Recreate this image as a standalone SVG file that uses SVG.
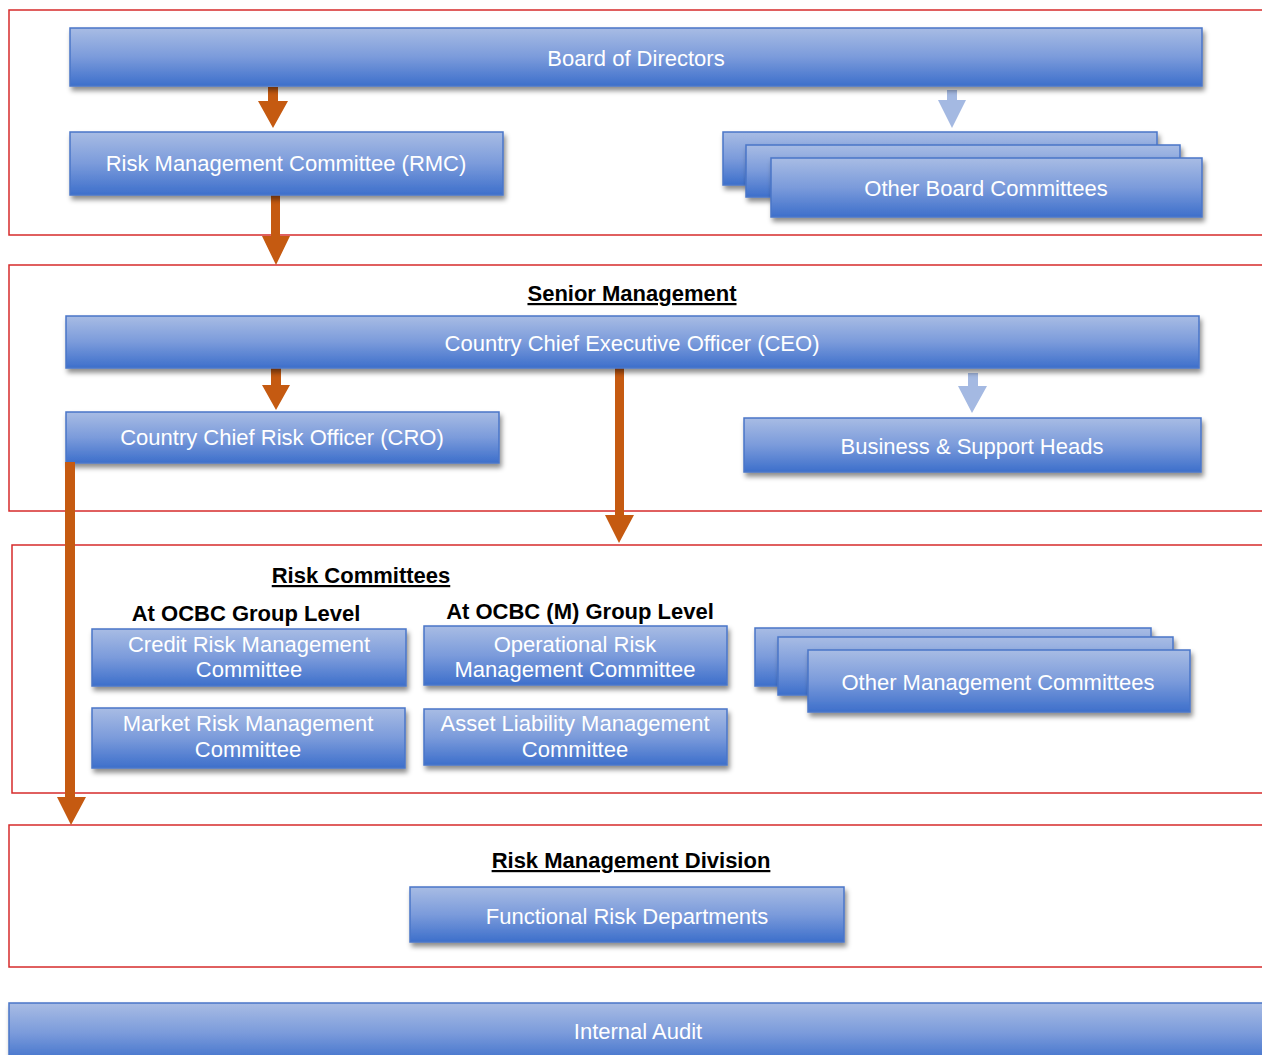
<svg xmlns="http://www.w3.org/2000/svg" width="1262" height="1055" viewBox="0 0 1262 1055">
<defs>
<linearGradient id="g" x1="0" y1="0" x2="0" y2="1">
<stop offset="0" stop-color="#a8bce4"/>
<stop offset="0.5" stop-color="#7b9bdb"/>
<stop offset="1" stop-color="#3d6fcb"/>
</linearGradient>
<filter id="sh" x="-5%" y="-20%" width="110%" height="150%">
<feDropShadow dx="2" dy="4" stdDeviation="2.5" flood-color="#000" flood-opacity="0.45"/>
</filter>
</defs>
<style>
.frame{fill:none;stroke:#d62b2b;stroke-width:1.5}
.box{fill:url(#g);stroke:#4a76c8;stroke-width:1.5;filter:url(#sh)}
.t{fill:#ffffff;font-family:"Liberation Sans",Arial,sans-serif;font-size:22px;text-anchor:middle}
.h{fill:#000;font-family:"Liberation Sans",Arial,sans-serif;font-size:22px;font-weight:bold;text-anchor:middle}
.u{text-decoration:underline}
.oa{fill:#c55a11}
.ba{fill:#a4b9e2}
</style>
<rect width="1262" height="1055" fill="#ffffff"/>
<g id="frames">
<rect class="frame" x="9" y="10" width="1270" height="225"/>
<rect class="frame" x="9" y="265" width="1270" height="246"/>
<rect class="frame" x="12" y="545" width="1270" height="248"/>
<rect class="frame" x="9" y="825" width="1270" height="142"/>
</g>
<g id="headings">
<text class="h u" x="632" y="301">Senior Management</text>
<text class="h u" x="361" y="583">Risk Committees</text>
<text class="h" x="246" y="621">At OCBC Group Level</text>
<text class="h" x="580" y="619">At OCBC (M) Group Level</text>
<text class="h u" x="631" y="868">Risk Management Division</text>
</g>
<g id="connectors">
<polygon class="oa" points="268,87 278,87 278,101 288,101 273,128 258,101 268,101"/>
<polygon class="ba" points="947,90 957,90 957,100 966,100 952,128 938,100 947,100"/>
<polygon class="oa" points="271,195 280,195 280,236 290,236 276,265 262,236 271,236"/>
<polygon class="oa" points="271,368 281,368 281,385 290,385 276,410 262,385 271,385"/>
<polygon class="oa" points="615,360 624,360 624,515 634,515 619,543 605,515 615,515"/>
<polygon class="ba" points="968,373 978,373 978,386 987,386 972,413 958,386 968,386"/>
</g>
<g id="board"><rect class="box" x="70" y="28" width="1132" height="58"/><text class="t" x="636" y="66">Board of Directors</text></g>
<g id="rmc"><rect class="box" x="70" y="132" width="433" height="63"/><text class="t" x="286" y="171">Risk Management Committee (RMC)</text></g>
<g id="other-board">
<rect class="box" x="723" y="132" width="434" height="53"/>
<rect class="box" x="746" y="145" width="434" height="52"/>
<rect class="box" x="771" y="158" width="431" height="59"/>
<text class="t" x="986" y="196">Other Board Committees</text>
</g>
<g id="ceo"><rect class="box" x="66" y="316" width="1133" height="52"/><text class="t" x="632" y="351">Country Chief Executive Officer (CEO)</text></g>
<g id="cro"><rect class="box" x="66" y="412" width="433" height="51"/><text class="t" x="282" y="445">Country Chief Risk Officer (CRO)</text></g>
<g id="business"><rect class="box" x="744" y="418" width="457" height="54"/><text class="t" x="972" y="454">Business &amp; Support Heads</text></g>
<g id="credit"><rect class="box" x="92" y="629" width="314" height="57"/><text class="t" x="249" y="652">Credit Risk Management</text><text class="t" x="249" y="677">Committee</text></g>
<g id="operational"><rect class="box" x="424" y="626" width="303" height="59"/><text class="t" x="575" y="652">Operational Risk</text><text class="t" x="575" y="677">Management Committee</text></g>
<g id="market"><rect class="box" x="92" y="708" width="313" height="60"/><text class="t" x="248" y="731">Market Risk Management</text><text class="t" x="248" y="757">Committee</text></g>
<g id="alm"><rect class="box" x="424" y="709" width="303" height="56"/><text class="t" x="575" y="731">Asset Liability Management</text><text class="t" x="575" y="757">Committee</text></g>
<g id="other-mgmt">
<rect class="box" x="755" y="628" width="396" height="58"/>
<rect class="box" x="778" y="637" width="395" height="58"/>
<rect class="box" x="808" y="650" width="382" height="62"/>
<text class="t" x="998" y="690">Other Management Committees</text>
</g>
<g id="functional"><rect class="box" x="410" y="887" width="434" height="55"/><text class="t" x="627" y="924">Functional Risk Departments</text></g>
<g id="audit"><rect class="box" x="9" y="1003" width="1270" height="60"/><text class="t" x="638" y="1039">Internal Audit</text></g>
<g id="connector-cro">
<polygon class="oa" points="65,462 75,462 75,797 86,797 71,825 57,797 65,797"/>
</g>
</svg>
